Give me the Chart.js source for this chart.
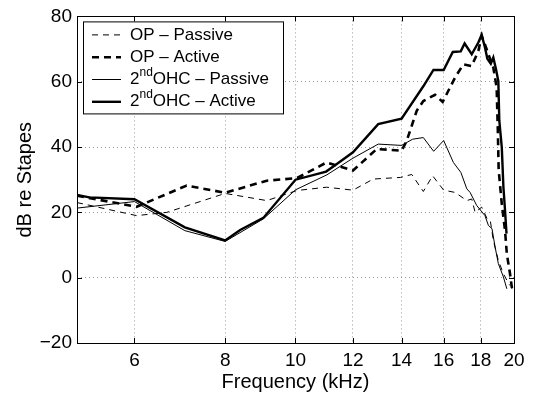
<!DOCTYPE html>
<html>
<head>
<meta charset="utf-8">
<script src="https://cdn.jsdelivr.net/npm/chart.js@4.4.1/dist/chart.umd.min.js"></script>
<style>
  body { margin: 0; background: #fff; }
  canvas { display: block; }
</style>
</head>
<body>
<canvas id="resp-chart" width="536" height="402"></canvas>
<script>
// axis ticks
const xTicks = [6, 8, 10, 12, 14, 16, 18, 20];
const yTicks = [-20, 0, 20, 40, 60, 80];

// OP - passive (thin dashed)
const opPassiveF = [5.0, 6.04, 6.65, 8.0, 9.13, 10.05, 11.04, 12.0, 12.8, 13.96, 14.46, 15.0, 15.45, 16.0, 16.59, 17.22, 17.49, 17.68, 18.05, 18.37, 18.55, 18.73, 19.03, 19.34, 19.66, 19.75];
const opPassiveDb = [23.0, 19.0, 20.0, 25.8, 23.6, 26.7, 27.7, 26.8, 30.2, 30.7, 31.6, 26.4, 31.2, 26.8, 26.1, 23.6, 24.1, 20.0, 21.6, 18.0, 17.5, 11.4, 5.3, 1.2, -1.8, -2.4];

// OP - active (thick dashed)
const opActiveF = [5.0, 6.04, 7.08, 8.0, 9.13, 10.05, 11.04, 12.0, 12.94, 14.0, 14.23, 14.69, 15.0, 15.57, 15.95, 16.59, 17.03, 17.49, 17.86, 18.05, 18.24, 18.44, 18.73, 18.93, 19.0, 19.05, 19.24, 19.44, 19.55, 19.75, 19.86, 19.96];
const opActiveDb = [25.1, 21.7, 28.2, 26.0, 29.7, 30.5, 35.3, 32.8, 39.4, 38.9, 41.9, 51.1, 54.1, 56.0, 53.8, 61.3, 65.3, 64.8, 69.4, 74.0, 71.4, 68.4, 64.3, 58.2, 45.0, 33.0, 22.6, 14.4, 7.3, 1.2, -2.9, -3.3];

// 2nd OHC - passive (thin solid)
const ohcPassiveF = [5.0, 6.0, 7.04, 8.0, 9.03, 10.0, 11.05, 12.0, 13.0, 14.0, 14.5, 15.0, 15.5, 16.0, 16.5, 16.9, 17.22, 17.4, 17.77, 18.24, 18.44, 18.65, 18.84, 19.03, 19.34, 19.55];
const ohcPassiveDb = [21.3, 23.3, 14.4, 11.1, 18.0, 26.9, 31.5, 36.6, 40.9, 40.5, 42.4, 42.9, 38.7, 42.0, 35.3, 32.2, 27.2, 26.1, 22.1, 19.0, 16.0, 15.0, 9.3, 4.3, 0.2, -3.4];

// 2nd OHC - active (thick solid)
const ohcActiveF = [5.0, 5.2, 6.0, 7.04, 8.0, 8.39, 9.03, 10.0, 11.02, 11.4, 12.0, 13.0, 14.0, 15.0, 15.49, 16.0, 16.47, 16.89, 17.1, 17.49, 17.86, 18.05, 18.24, 18.38, 18.58, 18.73, 18.89, 19.03, 19.09, 19.24, 19.34, 19.44, 19.53];
const ohcActiveDb = [25.3, 24.6, 24.0, 15.4, 11.4, 14.6, 18.3, 30.0, 32.5, 34.8, 38.4, 47.0, 48.7, 58.6, 63.6, 63.6, 69.1, 69.3, 71.7, 68.4, 72.0, 74.4, 70.5, 67.0, 65.5, 67.4, 63.8, 60.2, 48.0, 39.9, 27.7, 20.5, 13.5];

const legendText = [['OP \u2013 Passive'], ['OP \u2013 Active'], ['2', 'nd', 'OHC \u2013 Passive'], ['2', 'nd', 'OHC \u2013 Active']];

const FONT = '"Liberation Sans", Arial, Helvetica, sans-serif';

function pts(f, db) {
    return f.map((v, i) => ({ x: v, y: db[i] }));
}

const datasets = [
    { data: pts(opPassiveF, opPassiveDb), borderWidth: 1, borderDash: [6, 5] },
    { data: pts(opActiveF, opActiveDb), borderWidth: 2.6, borderDash: [7, 5] },
    { data: pts(ohcPassiveF, ohcPassiveDb), borderWidth: 1, borderDash: [] },
    { data: pts(ohcActiveF, ohcActiveDb), borderWidth: 2.4, borderDash: [] },
].map((d) => Object.assign(d, { borderColor: '#000', pointRadius: 0, fill: false, tension: 0, borderJoinStyle: 'miter' }));

// legend box inside the axes, plus the closed MATLAB-style frame with inward ticks
const axesDecor = {
    id: 'axesDecor',
    afterDatasetsDraw(chart) {
        const ctx = chart.ctx;
        const ca = chart.chartArea;
        const bx = ca.left + 6, by = ca.top + 5, bw = 200, bh = 92;
        ctx.save();
        ctx.fillStyle = '#fff';
        ctx.fillRect(bx, by, bw, bh);
        ctx.strokeStyle = '#000';
        ctx.lineWidth = 1;
        ctx.strokeRect(bx + 0.5, by + 0.5, bw, bh);
        ctx.textBaseline = 'middle';
        ctx.fillStyle = '#000';
        legendText.forEach((parts, i) => {
            const ds = chart.data.datasets[i];
            const y = by + 13.5 + i * 22.3;
            ctx.beginPath();
            ctx.lineWidth = ds.borderWidth;
            ctx.setLineDash(ds.borderDash);
            ctx.moveTo(bx + 9, y);
            ctx.lineTo(bx + 38, y);
            ctx.stroke();
            ctx.setLineDash([]);
            let tx = bx + 47;
            if (parts.length === 1) {
                ctx.font = '17px ' + FONT;
                ctx.fillText(parts[0], tx, y);
            } else {
                ctx.font = '17px ' + FONT;
                ctx.fillText(parts[0], tx, y);
                tx += ctx.measureText(parts[0]).width;
                ctx.font = '12px ' + FONT;
                ctx.fillText(parts[1], tx, y - 7);
                tx += ctx.measureText(parts[1]).width;
                ctx.font = '17px ' + FONT;
                ctx.fillText(parts[2], tx, y);
            }
        });
        ctx.restore();
    },
    afterDraw(chart) {
        const ctx = chart.ctx;
        const ca = chart.chartArea;
        const xs = chart.scales.x, ys = chart.scales.y;
        const tl = 5;
        ctx.save();
        ctx.strokeStyle = '#000';
        ctx.lineWidth = 1;
        ctx.strokeRect(Math.round(ca.left) + 0.5, Math.round(ca.top) + 0.5, Math.round(ca.right - ca.left), Math.round(ca.bottom - ca.top));
        ctx.beginPath();
        xTicks.forEach((v) => {
            const px = Math.round(xs.getPixelForValue(v)) + 0.5;
            ctx.moveTo(px, ca.bottom);
            ctx.lineTo(px, ca.bottom - tl);
            ctx.moveTo(px, ca.top);
            ctx.lineTo(px, ca.top + tl);
        });
        yTicks.forEach((v) => {
            const py = Math.round(ys.getPixelForValue(v)) + 0.5;
            ctx.moveTo(ca.left, py);
            ctx.lineTo(ca.left + tl, py);
            ctx.moveTo(ca.right, py);
            ctx.lineTo(ca.right - tl, py);
        });
        ctx.stroke();
        ctx.restore();
    },
};

const ctx = document.getElementById('resp-chart');
const chart = new Chart(ctx, {
    type: 'line',
    data: { datasets: datasets },
    options: {
        responsive: false,
        animation: false,
        devicePixelRatio: 1,
        layout: { padding: { left: 0, top: 15, right: 22, bottom: 0 } },
        plugins: {
            legend: { display: false },
            tooltip: { enabled: false },
        },
        scales: {
            x: {
                type: 'logarithmic',
                min: 5,
                max: 20,
                afterBuildTicks: (axis) => { axis.ticks = xTicks.map((v) => ({ value: v })); },
                afterFit: (axis) => { axis.height = 59; },
                ticks: {
                    autoSkip: false,
                    maxRotation: 0,
                    padding: 6,
                    color: '#000',
                    font: { family: FONT, size: 19 },
                    callback: (v) => String(v),
                },
                grid: { color: '#999', lineWidth: 1, drawTicks: false },
                border: { display: false, dash: [1, 3] },
                title: {
                    display: true,
                    text: 'Frequency (kHz)',
                    color: '#000',
                    font: { family: FONT, size: 20 },
                    padding: { top: 0, bottom: 8 },
                },
            },
            y: {
                min: -20,
                max: 80,
                afterBuildTicks: (axis) => { axis.ticks = yTicks.map((v) => ({ value: v })); },
                afterFit: (axis) => { axis.width = 77; },
                ticks: {
                    padding: 5,
                    color: '#000',
                    font: { family: FONT, size: 19 },
                    callback: (v) => (v < 0 ? '\u2212' + Math.abs(v) : String(v)),
                },
                grid: { color: '#999', lineWidth: 1, drawTicks: false },
                border: { display: false, dash: [1, 3] },
                title: {
                    display: true,
                    text: 'dB re Stapes',
                    color: '#000',
                    font: { family: FONT, size: 20 },
                    padding: { top: 13, bottom: 0 },
                },
            },
        },
    },
    plugins: [axesDecor],
});
</script>
</body>
</html>
